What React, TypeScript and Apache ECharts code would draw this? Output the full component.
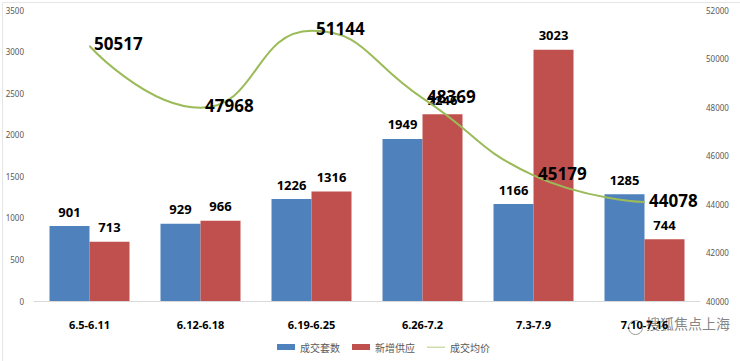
import React, { useEffect, useRef } from "react";
import * as echarts from "echarts";

const categories = ["6.5-6.11", "6.12-6.18", "6.19-6.25", "6.26-7.2", "7.3-7.9", "7.10-7.16"];
const dealCount = [901, 929, 1226, 1949, 1166, 1285];
const newSupply = [713, 966, 1316, 2246, 3023, 744];
const avgPrice = [50517, 47968, 51144, 48369, 45179, 44078];

export default function App() {
  const ref = useRef<HTMLDivElement>(null);
  useEffect(() => {
    if (!ref.current) return;
    const chart = echarts.init(ref.current, null, { renderer: "svg" });
    const barLabel = {
      show: true,
      position: "top",
      distance: 8,
      color: "#000",
      fontWeight: "bold",
      fontSize: 13,
      fontFamily: "Noto Sans",
    };
    const plain = (v: number) => String(v);
    chart.setOption({
      animation: false,
      backgroundColor: "#fff",
      grid: { left: 34, right: 40, top: 10, bottom: 60, containLabel: false },
      legend: {
        bottom: 4,
        left: 272,
        itemWidth: 18,
        itemHeight: 6,
        itemGap: 12,
        textStyle: { fontSize: 10, color: "#595959", fontFamily: "Noto Sans CJK SC" },
        data: [
          { name: "成交套数", icon: "rect" },
          { name: "新增供应", icon: "rect" },
          {
            name: "成交均价",
            icon: "path://M0,0h20v0.05h-20zM0,2.6h20v0.9h-20zM0,5.95h20v0.05h-20z",
          },
        ],
      },
      xAxis: {
        type: "category",
        data: categories,
        axisTick: { show: false },
        axisLine: { lineStyle: { color: "#d9d9d9" } },
        axisLabel: {
          color: "#000",
          fontWeight: "bold",
          fontSize: 11,
          fontFamily: "Noto Sans",
          margin: 18,
        },
      },
      yAxis: [
        {
          type: "value",
          min: 0,
          max: 3500,
          interval: 500,
          splitLine: { show: false },
          axisLine: { show: false },
          axisLabel: { fontSize: 8, color: "#595959", fontFamily: "Noto Sans", margin: 10, formatter: plain },
        },
        {
          type: "value",
          min: 40000,
          max: 52000,
          interval: 2000,
          splitLine: { show: false },
          axisLine: { show: false },
          axisLabel: { fontSize: 8, color: "#595959", fontFamily: "Noto Sans", margin: 6, formatter: plain },
        },
      ],
      series: [
        {
          name: "成交套数",
          type: "bar",
          data: dealCount,
          barWidth: 40,
          barGap: "0%",
          itemStyle: { color: "#4F81BD" },
          label: barLabel,
        },
        {
          name: "新增供应",
          type: "bar",
          data: newSupply,
          barWidth: 40,
          itemStyle: { color: "#C0504D" },
          label: barLabel,
        },
        {
          name: "成交均价",
          type: "line",
          yAxisIndex: 1,
          data: avgPrice,
          smooth: 0.5,
          showSymbol: true,
          symbol: "circle",
          symbolSize: 1,
          lineStyle: { color: "#9BBB59", width: 2 },
          itemStyle: { color: "#9BBB59" },
          label: {
            show: true,
            position: "right",
            distance: 4,
            offset: [0, -2],
            color: "#000",
            fontWeight: "bold",
            fontSize: 17,
            fontFamily: "Noto Sans",
          },
        },
      ],
      graphic: [
        {
          type: "rect",
          left: 0,
          top: 0,
          shape: { width: 738, height: 359 },
          style: { fill: "none", stroke: "#e6e6e6", lineWidth: 1 },
          silent: true,
        },
        {
          type: "circle",
          left: 626,
          top: 318,
          shape: { r: 7 },
          style: { fill: "none", stroke: "#999", lineWidth: 1 },
        },
        {
          type: "text",
          left: 646,
          top: 316,
          style: {
            text: "搜狐焦点上海",
            fontSize: 14,
            fill: "rgba(110,110,110,0.85)",
            fontFamily: "Noto Sans CJK SC",
          },
        },
      ],
    });
    return () => chart.dispose();
  }, []);
  return <div ref={ref} style={{ width: 740, height: 361, position: "absolute", left: 0, top: 0 }} />;
}
